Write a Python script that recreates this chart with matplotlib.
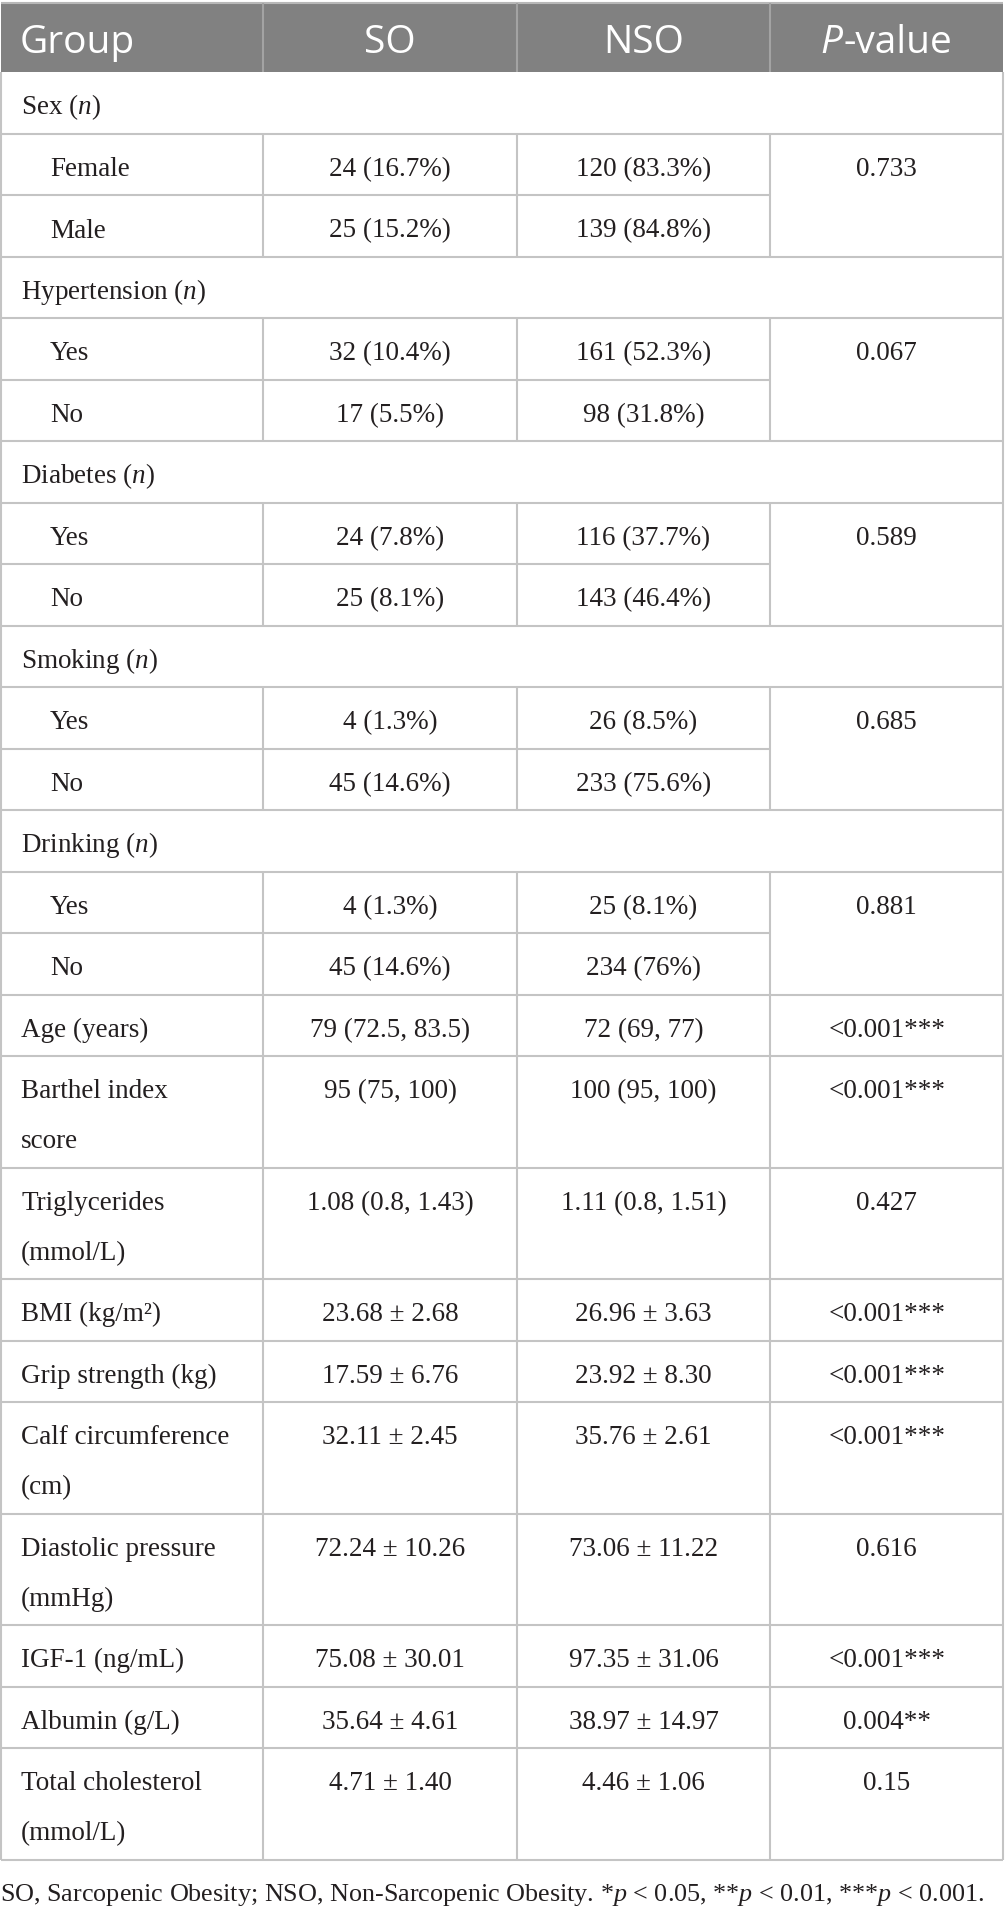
import matplotlib
matplotlib.use("Agg")
import matplotlib.pyplot as plt
from matplotlib.patches import Rectangle

plt.rcParams['mathtext.fontset'] = 'custom'
plt.rcParams['mathtext.rm'] = 'Liberation Serif'
plt.rcParams['mathtext.it'] = 'Liberation Serif:italic'

# ---------------- data ----------------
header_labels = ["Group", "SO", "NSO", "P-value"]

group_names = ["Sex ($n$)", "Hypertension ($n$)", "Diabetes ($n$)", "Smoking ($n$)", "Drinking ($n$)"]
group_levels = [["Female", "Male"], ["Yes", "No"], ["Yes", "No"], ["Yes", "No"], ["Yes", "No"]]
group_so = [["24 (16.7%)", "25 (15.2%)"], ["32 (10.4%)", "17 (5.5%)"], ["24 (7.8%)", "25 (8.1%)"],
            ["4 (1.3%)", "45 (14.6%)"], ["4 (1.3%)", "45 (14.6%)"]]
group_nso = [["120 (83.3%)", "139 (84.8%)"], ["161 (52.3%)", "98 (31.8%)"], ["116 (37.7%)", "143 (46.4%)"],
             ["26 (8.5%)", "233 (75.6%)"], ["25 (8.1%)", "234 (76%)"]]
group_p = ["0.733", "0.067", "0.589", "0.685", "0.881"]

cont_labels = ["Age (years)", "Barthel index\nscore", "Triglycerides\n(mmol/L)", "BMI (kg/m²)",
               "Grip strength (kg)", "Calf circumference\n(cm)", "Diastolic pressure\n(mmHg)",
               "IGF-1 (ng/mL)", "Albumin (g/L)", "Total cholesterol\n(mmol/L)"]
cont_so = ["79 (72.5, 83.5)", "95 (75, 100)", "1.08 (0.8, 1.43)", "23.68 ± 2.68", "17.59 ± 6.76",
           "32.11 ± 2.45", "72.24 ± 10.26", "75.08 ± 30.01", "35.64 ± 4.61", "4.71 ± 1.40"]
cont_nso = ["72 (69, 77)", "100 (95, 100)", "1.11 (0.8, 1.51)", "26.96 ± 3.63", "23.92 ± 8.30",
            "35.76 ± 2.61", "73.06 ± 11.22", "97.35 ± 31.06", "38.97 ± 14.97", "4.46 ± 1.06"]
cont_p = ["<0.001***", "<0.001***", "0.427", "<0.001***", "<0.001***", "<0.001***", "0.616",
          "<0.001***", "0.004**", "0.15"]

footnote = ("SO, Sarcopenic Obesity; NSO, Non-Sarcopenic Obesity. *$p$ < 0.05, **$p$ < 0.01, "
            "***$p$ < 0.001.")

# ---------------- layout ----------------
W, H = 1005, 1915
fig = plt.figure(figsize=(W / 100, H / 100), dpi=100)
ax = fig.add_axes([0, 0, 1, 1])
ax.set_xlim(0, W)
ax.set_ylim(H, 0)
ax.axis('off')

X0, X1 = 0.7, 1003.3
cols = [263, 517, 770]
centers = [(cols[0] + cols[1]) / 2, (cols[1] + cols[2]) / 2, (cols[2] + X1) / 2]
HEAD_TOP, HEAD_BOT = 4, 73
H1 = 61.5
LS = 50.0

SERIF = 'Liberation Serif'
SANS = 'Open Sans'
FS = 19.5
HFS = 28
TXT = '#231f20'
LINE = '#c4c4c4'
LW = 1.5

r = fig.canvas.get_renderer()

# header
ax.add_patch(Rectangle((X0, HEAD_TOP), X1 - X0, HEAD_BOT - HEAD_TOP, color='#818181', zorder=0, lw=0))
ax.plot([X0, X1], [HEAD_TOP, HEAD_TOP], color='#b8b8b8', lw=LW, solid_capstyle='butt')
for c in cols:
    ax.plot([c, c], [HEAD_TOP, HEAD_BOT], color='#a3a3a3', lw=LW, solid_capstyle='butt')
hb = HEAD_BOT - 20
ax.text(20, hb, header_labels[0], fontsize=HFS, family=SANS, color='white', va='baseline', ha='left')
ax.text(centers[0], hb, header_labels[1], fontsize=HFS, family=SANS, color='white', va='baseline', ha='center')
ax.text(centers[1], hb, header_labels[2], fontsize=HFS, family=SANS, color='white', va='baseline', ha='center')
# P-value with italic P
tp = ax.text(0, hb, header_labels[3][0], fontsize=HFS, family=SANS, style='italic', color='white',
             va='baseline', ha='left')
tv = ax.text(0, hb, header_labels[3][1:], fontsize=HFS, family=SANS, color='white', va='baseline', ha='left')
wp = tp.get_window_extent(r).width
wv = tv.get_window_extent(r).width
start = centers[2] - (wp + wv + 1) / 2
tp.set_x(start)
tv.set_x(start + wp + 1)


def hline(y, xa=X0, xb=X1):
    ax.plot([xa, xb], [y, y], color=LINE, lw=LW, solid_capstyle='butt', zorder=1)


def vline(x, ya, yb):
    ax.plot([x, x], [ya, yb], color=LINE, lw=LW, solid_capstyle='butt', zorder=1)


def body(x, y, s, ha='left'):
    return ax.text(x, y, s, fontsize=FS, family=SERIF, color=TXT, va='baseline', ha=ha)


BASE = 41.5
y = HEAD_BOT
for gi, gname in enumerate(group_names):
    body(21, y + BASE, gname)
    y += H1
    hline(y)
    block_top = y
    n = len(group_levels[gi])
    for li in range(n):
        body(50, y + BASE, group_levels[gi][li])
        body(centers[0], y + BASE, group_so[gi][li], ha='center')
        body(centers[1], y + BASE, group_nso[gi][li], ha='center')
        if li == 0:
            body(centers[2], y + BASE, group_p[gi], ha='center')
        vline(cols[0], y, y + H1)
        vline(cols[1], y, y + H1)
        y += H1
        if li < n - 1:
            hline(y, X0, cols[2])
        else:
            hline(y)
    vline(cols[2], block_top, y)

for ci, lab in enumerate(cont_labels):
    lines = lab.split("\n")
    h = H1 + LS * (len(lines) - 1)
    for k, ln in enumerate(lines):
        body(21, y + BASE + k * LS, ln)
    body(centers[0], y + BASE, cont_so[ci], ha='center')
    body(centers[1], y + BASE, cont_nso[ci], ha='center')
    body(centers[2], y + BASE, cont_p[ci], ha='center')
    for c in cols:
        vline(c, y, y + h)
    y += h
    hline(y)

# outer borders
vline(X0, HEAD_BOT, y)
vline(X1, HEAD_BOT, y)

# footnote, sized to span the same width as in the source
ft = body(0, y + 41, footnote)
fw = ft.get_window_extent(r).width
ft.set_fontsize(FS * 984.0 / fw)

fig.savefig("out.png", dpi=100)
